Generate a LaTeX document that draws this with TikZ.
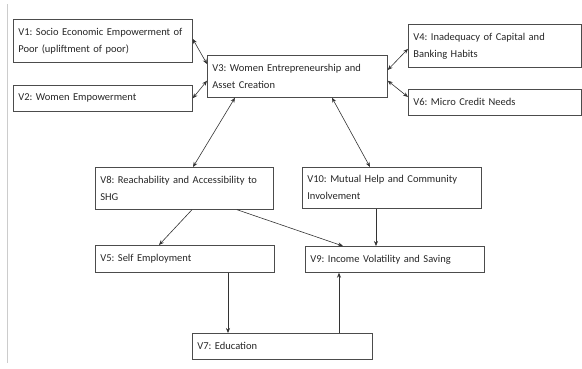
\documentclass[tikz,border=0pt]{standalone}
\usepackage{fontspec}
\setmainfont{Carlito}
\usetikzlibrary{arrows.meta}
\frenchspacing
\begin{document}
\begin{tikzpicture}[>={Stealth[length=5pt,width=4pt]}, x=1pt, y=-1pt,
  box/.style={draw=black!70, line width=0.7pt, rectangle, anchor=north west,
    inner xsep=5pt, inner ysep=0pt, align=left, text=black!85,
    font=\fontsize{10.5}{17}\selectfont},
  link/.style={black!80, line width=0.6pt}]
  \useasboundingbox (0,0) rectangle (582,368);
  \draw[black!20, line width=1pt] (7,4) -- (7,363);
  % variables
  \node[box, text width=169pt, minimum height=43pt] (v1) at (13,19) {V1: Socio Economic Empowerment of\\Poor (upliftment of poor)};
  \node[box, text width=169pt, minimum height=26pt] (v2) at (13,85) {V2: Women Empowerment};
  \node[box, text width=170pt, minimum height=42pt] (v3) at (207,55) {V3: Women Entrepreneurship and\\Asset Creation};
  \node[box, text width=163pt, minimum height=43pt] (v4) at (408,24) {V4: Inadequacy of Capital and\\Banking Habits};
  \node[box, text width=163pt, minimum height=26pt] (v6) at (408,89) {V6: Micro Credit Needs};
  \node[box, text width=168pt, minimum height=42pt] (v8) at (95,167) {V8: Reachability and Accessibility to\\SHG};
  \node[box, text width=169pt, minimum height=41pt] (v10) at (302,167) {V10: Mutual Help and Community\\Involvement};
  \node[box, text width=169pt, minimum height=27pt] (v5) at (95,245) {V5: Self Employment};
  \node[box, text width=169pt, minimum height=26pt] (v9) at (305,246) {V9: Income Volatility and Saving};
  \node[box, text width=170pt, minimum height=26pt] (v7) at (192,333) {V7: Education};
  % links
  \draw[link, <->] ([yshift=2pt]v1.east) -- ([yshift=-9pt]v3.north west);
  \draw[link, <->] (v2.east) -- ([yshift=17pt]v3.south west);
  \draw[link, <->] ([yshift=-15pt]v3.north east) -- ([yshift=-3pt]v4.west);
  \draw[link, <->] ([yshift=17pt]v3.south east) -- ([yshift=-8pt]v6.north west);
  \draw[link, <->] ([xshift=28pt]v3.south west) -- ([xshift=98pt]v8.north west);
  \draw[link, <->] ([xshift=125pt]v3.south west) -- ([xshift=68pt]v10.north west);
  \draw[link, ->] ([xshift=97pt]v8.south west) -- ([xshift=64pt]v5.north west);
  \draw[link, ->] ([xshift=142pt]v8.south west) -- ([xshift=38pt]v9.north west);
  \draw[link, ->] ([xshift=74pt]v10.south west) -- ([xshift=74pt]v10.south west |- v9.north);
  \draw[link, ->] ([xshift=133pt]v5.south west) -- ([xshift=133pt]v5.south west |- v7.north);
  \draw[link, ->] ([xshift=34pt]v9.south west |- v7.north) -- ([xshift=34pt]v9.south west);
\end{tikzpicture}
\end{document}
